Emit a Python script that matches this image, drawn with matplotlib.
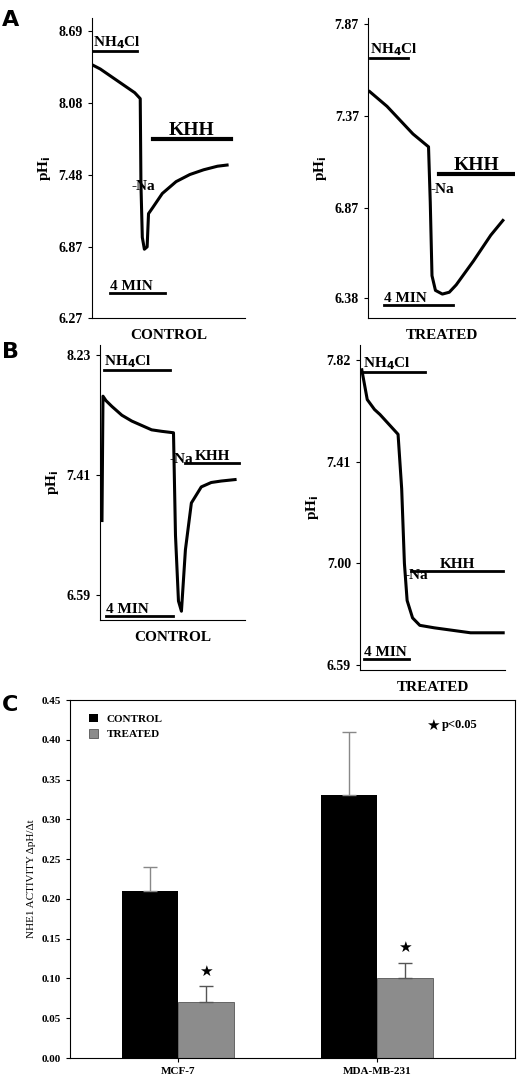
import matplotlib
matplotlib.use('Agg')
import matplotlib.pyplot as plt
import numpy as np

plt.rcParams['font.family'] = ['Liberation Serif', 'DejaVu Serif']
plt.rcParams['font.weight'] = 'bold'

# ---- trace data (time in min, pHi) ----
a_ctrl_t = [0, 0.5, 1, 1.5, 2, 2.5, 3, 3.4, 3.45, 3.55, 3.7, 3.9, 4.0, 4.3, 5, 6, 7, 8, 9, 9.7]
a_ctrl_ph = [8.40, 8.37, 8.33, 8.29, 8.25, 8.21, 8.17, 8.12, 7.40, 6.95, 6.85, 6.87, 7.15, 7.20,
             7.32, 7.42, 7.48, 7.52, 7.55, 7.56]
a_ctrl_ticks = [6.27, 6.87, 7.48, 8.08, 8.69]

a_trt_t = [0, 0.5, 1, 1.5, 2, 2.5, 3.4, 3.5, 3.6, 3.8, 4.2, 4.6, 5, 6, 7, 7.7]
a_trt_ph = [7.50, 7.46, 7.42, 7.37, 7.32, 7.27, 7.20, 6.90, 6.50, 6.42, 6.40, 6.41, 6.45, 6.58, 6.72, 6.80]
a_trt_ticks = [6.38, 6.87, 7.37, 7.87]

b_ctrl_t = [0, 0.05, 0.2, 0.5, 1, 1.5, 2, 2.5, 3, 3.6, 3.7, 3.85, 4.0, 4.2, 4.5, 5, 5.5, 6, 6.7]
b_ctrl_ph = [7.10, 7.95, 7.92, 7.88, 7.82, 7.78, 7.75, 7.72, 7.71, 7.70, 7.00, 6.55, 6.48, 6.90,
             7.22, 7.33, 7.36, 7.37, 7.38]
b_ctrl_ticks = [6.59, 7.41, 8.23]

b_trt_t = [0, 0.3, 0.7, 1, 1.5, 2, 2.2, 2.35, 2.5, 2.8, 3.2, 4, 5, 6, 7.8]
b_trt_ph = [7.78, 7.66, 7.62, 7.60, 7.56, 7.52, 7.30, 7.00, 6.85, 6.78, 6.75, 6.74, 6.73, 6.72, 6.72]
b_trt_ticks = [6.59, 7.00, 7.41, 7.82]

# ---- bar data ----
cells = ['MCF-7', 'MDA-MB-231']
control = [0.21, 0.33]
treated = [0.07, 0.10]
control_err = [0.03, 0.08]
treated_err = [0.02, 0.02]

fig = plt.figure(figsize=(5.2, 10.78), dpi=100)
W, H = 520.0, 1078.0


def px_axes(x0, y0, x1, y1):
    return fig.add_axes([x0 / W, 1 - y1 / H, (x1 - x0) / W, (y1 - y0) / H])


def trace_panel(ax, t, ph, ticks, ylim, xlim, label, nh4, khh, khh_y, na_xy, minbar, big):
    ax.plot(t, ph, color='black', lw=2.2)
    ax.set_ylim(*ylim)
    ax.set_xlim(*xlim)
    ax.set_yticks(ticks)
    ax.set_yticklabels(['%.2f' % v for v in ticks], fontsize=10, fontweight='bold')
    ax.set_xticks([])
    for s in ['top', 'right']:
        ax.spines[s].set_visible(False)
    ax.tick_params(axis='y', length=3)
    ax.set_ylabel('pH$_\\mathbf{i}$', fontsize=11, fontweight='bold')
    ax.set_xlabel(label, fontsize=11, fontweight='bold', labelpad=8)
    # NH4Cl bar
    ax.plot(nh4[:2], [nh4[2]] * 2, color='black', lw=2)
    ax.text(nh4[0], nh4[2], 'NH$_\\mathbf{4}$Cl', fontsize=11, va='bottom', ha='left')
    # KHH bar
    ax.plot(khh, [khh_y] * 2, color='black', lw=3 if big else 2)
    ax.text(sum(khh) / 2, khh_y, 'KHH', fontsize=14 if big else 11, va='bottom', ha='center')
    ax.text(na_xy[0], na_xy[1], '-Na', fontsize=11, va='center')
    # 4 MIN bar
    ax.plot(minbar[:2], [minbar[2]] * 2, color='black', lw=2)
    ax.text(minbar[0], minbar[2], '4 MIN', fontsize=11, va='bottom', ha='left')


ax = px_axes(92, 18, 245, 318)
trace_panel(ax, a_ctrl_t, a_ctrl_ph, a_ctrl_ticks, (6.27, 8.80), (-0.1, 11),
            'CONTROL', (0, 3.2, 8.52), (4.3, 10.0), 7.78, (2.8, 7.38), (1.2, 5.2, 6.48), True)

ax = px_axes(368, 18, 515, 318)
trace_panel(ax, a_trt_t, a_trt_ph, a_trt_ticks, (6.27, 7.90), (-0.1, 8.4),
            'TREATED', (0, 2.2, 7.68), (4.0, 8.3), 7.05, (3.5, 6.97), (0.8, 4.8, 6.34), True)

ax = px_axes(100, 345, 245, 620)
trace_panel(ax, b_ctrl_t, b_ctrl_ph, b_ctrl_ticks, (6.42, 8.30), (-0.1, 7.2),
            'CONTROL', (0.1, 3.4, 8.13), (4.2, 6.9), 7.49, (3.4, 7.52), (0.2, 3.6, 6.45), False)

ax = px_axes(360, 345, 505, 670)
trace_panel(ax, b_trt_t, b_trt_ph, b_trt_ticks, (6.57, 7.88), (-0.1, 7.9),
            'TREATED', (0.05, 3.5, 7.77), (2.7, 7.8), 6.97, (2.35, 6.95), (0.1, 2.6, 6.615), False)

# ---- panel C ----
ax = px_axes(70, 700, 515, 1058)
x = np.array([0.0, 1.0])
w = 0.28
ax.bar(x - w / 2, control, w, color='black', label='CONTROL')
ax.bar(x + w / 2, treated, w, color='#8c8c8c', edgecolor='#555555', lw=0.6, label='TREATED')
ax.errorbar(x - w / 2, control, yerr=[[0, 0], control_err], fmt='none', ecolor='#888888',
            capsize=5, lw=1)
ax.errorbar(x + w / 2, treated, yerr=[[0, 0], treated_err], fmt='none', ecolor='#555555',
            capsize=5, lw=1)
for xi, v, e in zip(x, treated, treated_err):
    ax.text(xi + w / 2, v + e + 0.01, '\u2605', fontsize=11, ha='center', va='bottom',
            family=['DejaVu Sans'])
ax.set_ylim(0, 0.45)
ax.set_xlim(-0.54, 1.69)
ax.set_yticks(np.arange(0, 0.46, 0.05))
ax.set_yticklabels(['%.2f' % v for v in np.arange(0, 0.46, 0.05)], fontsize=8)
ax.set_xticks(x)
ax.set_xticklabels(cells, fontsize=8)
ax.tick_params(length=3)
ax.set_ylabel('NHE1 ACTIVITY \u0394pH/\u0394t', fontsize=8)
ax.legend(loc='upper left', frameon=False, fontsize=8, handlelength=0.8, handleheight=0.8,
          bbox_to_anchor=(0.02, 0.99))
ax.text(0.80, 0.93, '\u2605', transform=ax.transAxes, fontsize=11, va='center',
        family=['DejaVu Sans'])
ax.text(0.835, 0.93, 'p<0.05', transform=ax.transAxes, fontsize=9, va='center')

for letter, y in [('A', 20), ('B', 352), ('C', 705)]:
    fig.text(2 / W, 1 - y / H, letter, fontsize=16, fontweight='bold', family='DejaVu Sans',
             va='center')

fig.savefig('out.png', dpi=100)
